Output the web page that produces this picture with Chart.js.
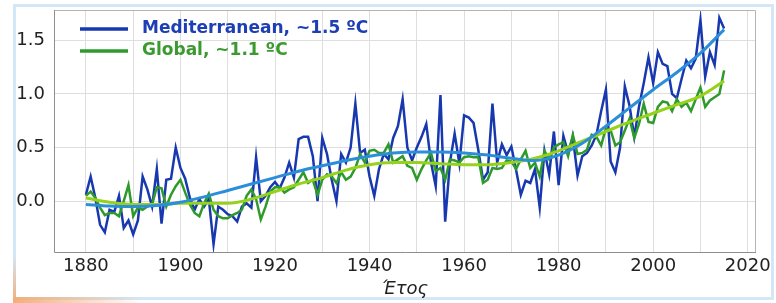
<!DOCTYPE html>
<html>
<head>
<meta charset="utf-8">
<script src="https://cdn.jsdelivr.net/npm/chart.js@4.4.1/dist/chart.umd.min.js"></script>
<style>
    html, body { margin: 0; padding: 0; background: #ffffff; }
    #wrap { position: relative; width: 776px; height: 303px; overflow: hidden; }
    #frame { position: absolute; left: 13px; top: 4px; width: 755px; height: 290px; border: 3px solid #d3e7f7; }
    #cornerBottom { position: absolute; left: 13px; top: 297px; width: 130px; height: 6px;
        background: linear-gradient(to right, #f2ae78, rgba(242, 174, 120, 0)); }
    #cornerLeft { position: absolute; left: 13px; top: 255px; width: 3px; height: 48px;
        background: linear-gradient(to bottom, rgba(242, 174, 120, 0), #f2ae78); }
    canvas { position: absolute; left: 0; top: 0; }
</style>
</head>
<body>
<div id="wrap">
    <div id="frame"></div>
    <div id="cornerBottom"></div>
    <div id="cornerLeft"></div>
    <canvas id="tempChart" width="776" height="303"></canvas>
</div>
<script>
// annual anomalies, 1880..2015 (one value per year)
const firstYear = 1880;

const mediterranean = [
    0.06, 0.23, 0.03, -0.22, -0.29, -0.08, -0.10, 0.05, -0.25, -0.18,
    -0.31, -0.18, 0.23, 0.11, -0.05, 0.30, -0.21, 0.20, 0.21, 0.50,
    0.31, 0.21, 0.03, -0.08, 0.02, -0.05, 0.02, -0.40, -0.05, -0.08,
    -0.12, -0.14, -0.19, -0.05, -0.02, -0.06, 0.41, 0.00, 0.05, 0.13,
    0.18, 0.12, 0.22, 0.36, 0.22, 0.58, 0.60, 0.60, 0.42, 0.00,
    0.59, 0.44, 0.20, 0.00, 0.44, 0.36, 0.50, 0.91, 0.45, 0.48,
    0.23, 0.05, 0.30, 0.44, 0.39, 0.59, 0.70, 0.95, 0.50, 0.38,
    0.50, 0.60, 0.72, 0.36, 0.14, 0.99, -0.19, 0.36, 0.63, 0.35,
    0.80, 0.78, 0.73, 0.48, 0.20, 0.27, 0.91, 0.36, 0.53, 0.43,
    0.51, 0.29, 0.06, 0.19, 0.17, 0.30, -0.06, 0.47, 0.25, 0.65,
    0.15, 0.61, 0.45, 0.60, 0.24, 0.42, 0.45, 0.52, 0.62, 0.84,
    1.04, 0.37, 0.27, 0.50, 1.07, 0.89, 0.60, 0.88, 1.10, 1.34,
    1.10, 1.39, 1.28, 1.26, 1.00, 0.96, 1.14, 1.31, 1.24, 1.33,
    1.69, 1.16, 1.39, 1.27, 1.71, 1.61
];

const global = [
    0.05, 0.09, 0.03, -0.06, -0.13, -0.11, -0.11, -0.14, 0.00, 0.15,
    -0.14, -0.06, -0.08, -0.05, -0.03, 0.13, 0.12, -0.05, 0.06, 0.14,
    0.20, 0.08, -0.03, -0.11, -0.14, -0.02, 0.07, -0.08, -0.14, -0.16,
    -0.16, -0.13, -0.11, -0.08, 0.05, 0.11, 0.02, -0.17, -0.05, 0.09,
    0.13, 0.13, 0.08, 0.11, 0.13, 0.20, 0.27, 0.17, 0.20, 0.06,
    0.20, 0.25, 0.23, 0.17, 0.27, 0.20, 0.23, 0.31, 0.44, 0.36,
    0.47, 0.48, 0.45, 0.45, 0.53, 0.36, 0.39, 0.42, 0.33, 0.31,
    0.20, 0.30, 0.38, 0.45, 0.28, 0.31, 0.20, 0.39, 0.38, 0.36,
    0.41, 0.42, 0.41, 0.41, 0.17, 0.20, 0.31, 0.30, 0.31, 0.38,
    0.37, 0.30, 0.39, 0.47, 0.31, 0.36, 0.23, 0.47, 0.39, 0.50,
    0.53, 0.55, 0.42, 0.62, 0.44, 0.45, 0.48, 0.62, 0.60, 0.52,
    0.68, 0.66, 0.52, 0.55, 0.66, 0.77, 0.59, 0.72, 0.91, 0.74,
    0.73, 0.88, 0.93, 0.92, 0.84, 0.95, 0.88, 0.92, 0.84, 0.95,
    1.06, 0.88, 0.94, 0.97, 1.00, 1.22
];

// smoothed trends, read every 5 years
const trendYears = [1880, 1885, 1890, 1895, 1900, 1905, 1910, 1915, 1920, 1925,
    1930, 1935, 1940, 1945, 1950, 1955, 1960, 1965, 1970, 1975,
    1980, 1985, 1990, 1995, 2000, 2005, 2010, 2015];
const mediterraneanTrend = [-0.03, -0.045, -0.05, -0.04, -0.01, 0.04, 0.10, 0.16, 0.22, 0.28,
    0.33, 0.38, 0.42, 0.45, 0.46, 0.46, 0.45, 0.43, 0.40, 0.38,
    0.43, 0.54, 0.70, 0.87, 1.04, 1.20, 1.38, 1.60];
const globalTrend = [0.03, -0.01, -0.03, -0.03, -0.02, -0.02, -0.02, 0.02, 0.09, 0.16,
    0.22, 0.29, 0.34, 0.36, 0.36, 0.35, 0.34, 0.34, 0.36, 0.40,
    0.47, 0.56, 0.65, 0.74, 0.82, 0.90, 0.98, 1.12];

const xGridTicks = [1880, 1890, 1900, 1910, 1920, 1930, 1940, 1950, 1960, 1970, 1980, 1990, 2000, 2010, 2020];
const yGridTicks = [0.0, 0.5, 1.0, 1.5];

const legendItems = [
    { label: 'Mediterranean, ~1.5 ºC', line: '#1838b0', text: '#1e3fb4' },
    { label: 'Global, ~1.1 ºC', line: '#2f9a2c', text: '#3a9a30' }
];

const toPoints = (values) => values.map((v, i) => ({ x: firstYear + i, y: v }));
const toTrendPoints = (values) => values.map((v, i) => ({ x: trendYears[i], y: v }));

const framePlugin = {
    id: 'frame',
    afterDatasetsDraw(chart) {
        const { ctx, chartArea: a } = chart;
        ctx.save();
        ctx.lineWidth = 1;
        ctx.strokeStyle = '#b4b4b4';
        ctx.beginPath();
        ctx.moveTo(a.left, a.top + 0.5);
        ctx.lineTo(a.right - 0.5, a.top + 0.5);
        ctx.lineTo(a.right - 0.5, a.bottom);
        ctx.stroke();
        ctx.strokeStyle = '#8e8e8e';
        ctx.beginPath();
        ctx.moveTo(a.left + 0.5, a.top);
        ctx.lineTo(a.left + 0.5, a.bottom - 0.5);
        ctx.lineTo(a.right, a.bottom - 0.5);
        ctx.stroke();
        ctx.restore();
    },
    afterDraw(chart) {
        const { ctx } = chart;
        ctx.save();
        ctx.font = 'bold 17px "DejaVu Sans"';
        ctx.textBaseline = 'middle';
        legendItems.forEach((item, i) => {
            const y = 29 + i * 22;
            ctx.strokeStyle = item.line;
            ctx.lineWidth = 3.5;
            ctx.beginPath();
            ctx.moveTo(80, y);
            ctx.lineTo(128, y);
            ctx.stroke();
            ctx.fillStyle = item.text;
            ctx.fillText(item.label, 142, y);
        });
        ctx.restore();
    }
};

const ctx = document.getElementById('tempChart').getContext('2d');
const tempChart = new Chart(ctx, {
    type: 'line',
    data: {
        datasets: [{
            label: 'Mediterranean trend',
            data: toTrendPoints(mediterraneanTrend),
            borderColor: '#2b8ed8',
            borderWidth: 3,
            pointRadius: 0,
            cubicInterpolationMode: 'monotone'
        }, {
            label: 'Global trend',
            data: toTrendPoints(globalTrend),
            borderColor: '#96d21c',
            borderWidth: 3,
            pointRadius: 0,
            cubicInterpolationMode: 'monotone'
        }, {
            label: 'Global, ~1.1 ºC',
            data: toPoints(global),
            borderColor: '#2f9a2c',
            borderWidth: 2.5,
            pointRadius: 0,
            tension: 0
        }, {
            label: 'Mediterranean, ~1.5 ºC',
            data: toPoints(mediterranean),
            borderColor: '#1838b0',
            borderWidth: 2.5,
            pointRadius: 0,
            tension: 0
        }]
    },
    options: {
        responsive: false,
        animation: false,
        devicePixelRatio: 1,
        layout: { padding: { top: 10, right: 20, left: 0, bottom: 0 } },
        plugins: {
            legend: { display: false },
            tooltip: { enabled: false }
        },
        scales: {
            x: {
                type: 'linear',
                min: 1873.25,
                max: 2021.75,
                afterBuildTicks: (scale) => { scale.ticks = xGridTicks.map(v => ({ value: v })); },
                afterFit: (scale) => {
                    scale.height = 50;
                    scale.paddingLeft = 0;
                    scale.paddingRight = 0;
                },
                grid: { color: '#dedede', lineWidth: 1, drawTicks: false },
                border: { display: false },
                ticks: {
                    padding: 3,
                    maxRotation: 0,
                    autoSkip: false,
                    color: '#222222',
                    font: { family: 'DejaVu Sans', size: 18 },
                    callback: (v) => (v % 20 === 0 ? String(v) : '')
                },
                title: {
                    display: true,
                    text: 'Έτος',
                    color: '#222222',
                    font: { family: 'DejaVu Sans', size: 18, style: 'italic' },
                    padding: { top: 0, bottom: 3 }
                }
            },
            y: {
                min: -0.483,
                max: 1.783,
                afterBuildTicks: (scale) => { scale.ticks = yGridTicks.map(v => ({ value: v })); },
                afterFit: (scale) => {
                    scale.width = 54;
                    scale.paddingTop = 0;
                    scale.paddingBottom = 0;
                },
                grid: { color: '#dedede', lineWidth: 1, drawTicks: false },
                border: { display: false },
                ticks: {
                    padding: 9,
                    color: '#222222',
                    font: { family: 'DejaVu Sans', size: 18 },
                    callback: (v) => v.toFixed(1)
                }
            }
        }
    },
    plugins: [framePlugin]
});
</script>
</body>
</html>
